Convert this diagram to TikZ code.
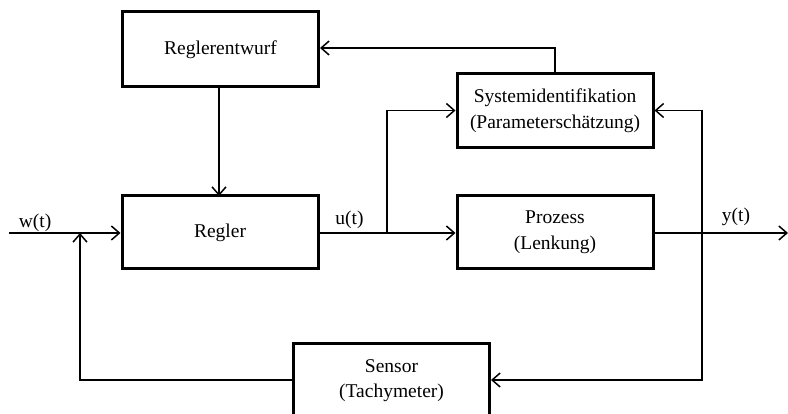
\documentclass[tikz,border=0pt]{standalone}
\usepackage{fontspec}
\setmainfont{Liberation Serif}
\usetikzlibrary{arrows.meta}
\tikzset{
  blk/.style={draw=black, line width=3pt, minimum width=196pt, align=center,
    font=\fontsize{19.5}{25.5}\selectfont, inner sep=0pt},
  conn/.style={line width=1.5pt, -{Straight Barb[length=8pt,width=14pt,line width=1.5pt]}},
  plain/.style={line width=1.5pt},
  sig/.style={font=\fontsize{19.5}{23}\selectfont, inner sep=0pt}
}
\begin{document}
\begin{tikzpicture}[x=1pt,y=-1pt]
\clip (0,0) rectangle (788,414);
\fill[white] (0,0) rectangle (788,414);
\node[blk, minimum height=75pt] (entw) at (220.5,49.5) {Reglerentwurf};
\node[blk, minimum height=73pt] (regl) at (220,232.5) {Regler};
\node[blk, minimum height=74pt] (sysid) at (555,110.5) {Systemidentifikation\\(Parameterschätzung)};
\node[blk, minimum height=73pt] (proz) at (555,232) {Prozess\\(Lenkung)};
\node[blk, minimum height=73pt] (sens) at (391.5,380.5) {Sensor\\(Tachymeter)};
\coordinate (win) at (9,233);
\coordinate (yout) at (788,233);
\coordinate (ub) at (387,233);
\coordinate (yb) at (702,233);
\coordinate (fb) at (80,233);
% w(t) input
\draw[conn] (win) -- (regl.west |- win);
\node[sig] (wl) at (35,223) {w(t)};
% Reglerentwurf -> Regler
\draw[conn] (219,87) -- (219,196);
% u(t)
\draw[conn] (regl.east |- ub) -- (proz.west |- ub);
\draw[conn] (ub) -- (ub |- 0,110.5) -- (sysid.west);
\node[sig] (ul) at (349.5,220) {u(t)};
% y(t)
\draw[conn] (proz.east |- yb) -- (yout);
\node[sig] (yl) at (736,217) {y(t)};
\draw[conn] (yb) -- (yb |- sysid.east) -- (sysid.east);
\draw[conn] (yb) -- (yb |- 0,380) -- (sens.east |- 0,380);
% Systemidentifikation -> Reglerentwurf
\draw[conn] (sysid.north) -- (555,48) -- (entw.east |- 0,48);
% feedback
\draw[conn] (sens.west |- 0,380) -- (fb |- 0,380) -- (fb);
\end{tikzpicture}
\end{document}
